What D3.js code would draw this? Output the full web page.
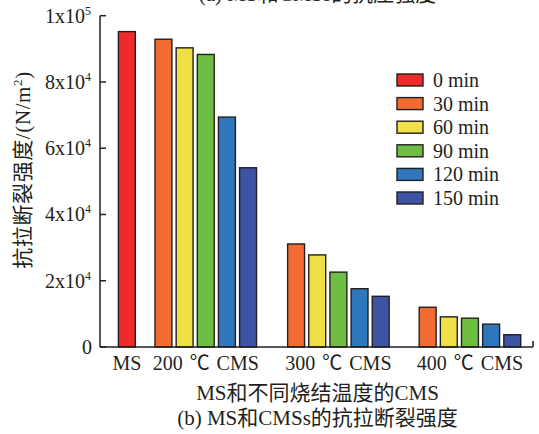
<!DOCTYPE html>
<html><head><meta charset="utf-8">
<script src="https://cdn.jsdelivr.net/npm/d3@7"></script>
<style>
html,body{margin:0;padding:0;background:#fff;}
text{font-family:"Liberation Serif","Noto Sans CJK SC",serif;fill:#231f20;}
</style></head>
<body><svg id="c" width="539" height="434"></svg>
<script>
const categories = ["MS", "200 ℃ CMS", "300 ℃ CMS", "400 ℃ CMS"];
const seriesNames = ["0 min", "30 min", "60 min", "90 min", "120 min", "150 min"];
const v0   = [95200, null, null, null];
const v30  = [null, 92900, 31100, 12000];
const v60  = [null, 90300, 27800, 9100];
const v90  = [null, 88300, 22600, 8700];
const v120 = [null, 69400, 17600, 6900];
const v150 = [null, 54100, 15300, 3700];
const seriesValues = [v0, v30, v60, v90, v120, v150];
const yTickValues = [0, 20000, 40000, 60000, 80000, 100000];
const yTickMain = ["0", "2x10", "4x10", "6x10", "8x10", "1x10"];
const yTickSup = ["", "4", "4", "4", "4", "5"];
const colors = ["#ee2b2b", "#f26b30", "#eee045", "#6fbe44", "#2e77bd", "#3c54a3"];

// layout
const groupStartSlot = [0, 1.73, 8.0, 14.22];
const svg = d3.select("#c");
const x = d3.scaleLinear().domain([-1.27, 19.2]).range([100, 533]);
const y = d3.scaleLinear().domain([0, 100000]).range([347, 15.7]);
const slotW = x(1) - x(0);
const barW = slotW * 0.8;

// bars
const bars = [];
seriesValues.forEach((vals, si) => {
  vals.forEach((v, gi) => {
    if (v == null) return;
    const slot = gi === 0 ? groupStartSlot[0] : groupStartSlot[gi] + (si - 1);
    bars.push({v, si, slot});
  });
});
svg.append("g").selectAll("rect").data(bars).join("rect")
  .attr("x", d => x(d.slot) - barW / 2)
  .attr("width", barW)
  .attr("y", d => y(d.v))
  .attr("height", d => y(0) - y(d.v))
  .attr("fill", d => colors[d.si])
  .attr("stroke", "#231f20")
  .attr("stroke-width", 1.4);

// axes
const axisColor = "#231f20";
svg.append("line").attr("x1", x.range()[0]).attr("x2", x.range()[1])
  .attr("y1", y(0)).attr("y2", y(0)).attr("stroke", axisColor).attr("stroke-width", 1.5);
svg.append("line").attr("x1", x.range()[1]).attr("x2", x.range()[1])
  .attr("y1", y(0)).attr("y2", y(0) - 6).attr("stroke", axisColor).attr("stroke-width", 1.5);
svg.append("line").attr("x1", x.range()[0]).attr("x2", x.range()[0])
  .attr("y1", y(0)).attr("y2", y(100000)).attr("stroke", axisColor).attr("stroke-width", 1.5);

const yt = svg.append("g").selectAll("g").data(yTickValues).join("g")
  .attr("transform", d => `translate(0,${y(d)})`);
yt.append("line").attr("x1", x.range()[0]).attr("x2", x.range()[0] + 6)
  .attr("stroke", axisColor).attr("stroke-width", 1.5);
const ytt = yt.append("text").attr("x", (d, i) => i === 0 ? 92 : 91)
  .attr("dy", "0.35em").attr("text-anchor", "end").attr("font-size", 20);
ytt.append("tspan").text((d, i) => yTickMain[i]);
ytt.append("tspan").attr("dy", -8).attr("font-size", 12).text((d, i) => yTickSup[i]);

// x category labels
const groupCenter = (gi) => gi === 0 ? x(groupStartSlot[0]) : (x(groupStartSlot[gi]) + x(groupStartSlot[gi] + 4)) / 2;
svg.append("g").selectAll("text").data(categories).join("text")
  .attr("x", (d, i) => groupCenter(i))
  .attr("y", 370).attr("text-anchor", "middle").attr("font-size", 20)
  .attr("word-spacing", 2)
  .text(d => d);

// axis titles
svg.append("text").attr("x", 317.5).attr("y", 400).attr("text-anchor", "middle")
  .attr("font-size", 21).text("MS和不同烧结温度的CMS");
svg.append("text").attr("x", 317.5).attr("y", 425).attr("text-anchor", "middle")
  .attr("font-size", 21).text("(b) MS和CMSs的抗拉断裂强度");
svg.append("text").attr("x", 317.5).attr("y", 1).attr("text-anchor", "middle")
  .attr("font-size", 21).text("(a) MS和CMSs的抗压强度");
const yl = svg.append("text").attr("transform", "translate(30,170) rotate(-90)")
  .attr("text-anchor", "middle").attr("font-size", 21).attr("letter-spacing", 0.6);
yl.append("tspan").text("抗拉断裂强度/(N/m");
yl.append("tspan").attr("dy", -8).attr("font-size", 13).text("2");
yl.append("tspan").attr("dy", 8).text(")");

// legend
const lg = svg.append("g").selectAll("g").data(seriesNames).join("g")
  .attr("transform", (d, i) => `translate(397,${80 + i * 23.6})`);
lg.append("rect").attr("x", 0).attr("y", -6).attr("width", 26).attr("height", 12)
  .attr("fill", (d, i) => colors[i]).attr("stroke", "#231f20").attr("stroke-width", 1.4);
lg.append("text").attr("x", 36).attr("dy", "0.35em").attr("font-size", 20).text(d => d);
</script></body></html>
